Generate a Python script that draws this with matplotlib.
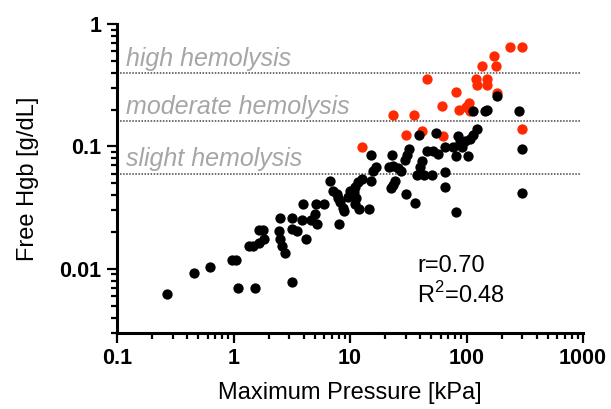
import numpy as np
import matplotlib.pyplot as plt
from matplotlib.ticker import FixedLocator, NullFormatter

plt.rcParams['font.family'] = ['Liberation Sans', 'DejaVu Sans']
plt.rcParams['mathtext.fontset'] = 'custom'
plt.rcParams['mathtext.rm'] = 'Liberation Sans'

# black points: pressure [kPa], free Hgb [g/dL]
black_x = [0.27, 0.46, 0.63, 0.97, 1.05, 1.09, 1.53, 1.36, 1.47, 1.66,
           1.79, 1.83, 1.66, 2.51, 3.18, 2.46, 2.51, 2.61, 2.77, 3.18,
           3.18, 3.51, 3.87, 3.95, 4.19, 4.63, 5.01, 5.21, 5.11, 5.98,
           6.73, 7.15, 7.73, 7.89, 8.2, 8.71, 8.88, 10.0, 9.62, 11.3,
           11.0, 11.9, 14.6, 8.05, 12.7, 11.7, 11.0, 10.8, 15.1, 15.1,
           16.7, 15.7, 21.6, 23.4, 25.8, 27.4, 23.0, 24.3, 23.4, 22.5,
           30.3, 36.1, 32.1, 30.8, 29.7, 39.1, 54.7, 39.9, 41.5, 37.6,
           43.2, 50.6, 45.8, 51.6, 56.9, 65.3, 76.6, 91.5, 81.3, 103,
           65.3, 65.3, 123, 114, 107, 84.5, 97.1, 88.0, 114, 144,
           150, 183, 282, 300, 300, 81.3]
black_y = [0.0062, 0.0093, 0.0104, 0.0118, 0.0118, 0.0070, 0.0070, 0.0154, 0.0154, 0.0207,
           0.0207, 0.0175, 0.0163, 0.026, 0.026, 0.0204, 0.0175, 0.0154, 0.0135, 0.0078,
           0.0211, 0.0204, 0.025, 0.0338, 0.0175, 0.025, 0.028, 0.0232, 0.0338, 0.0338,
           0.0519, 0.0431, 0.0407, 0.0378, 0.0351, 0.0313, 0.0296, 0.0431, 0.0385, 0.0378,
           0.0338, 0.0308, 0.0308, 0.0232, 0.0539, 0.051, 0.0464, 0.0423, 0.0519, 0.0845,
           0.0675, 0.0626, 0.0675, 0.0688, 0.0662, 0.0626, 0.0845, 0.0519, 0.0482, 0.0456,
           0.0407, 0.0344, 0.096, 0.0845, 0.077, 0.125, 0.128, 0.0675, 0.0755, 0.058,
           0.058, 0.058, 0.091, 0.091, 0.086, 0.098, 0.098, 0.098, 0.083, 0.083,
           0.0615, 0.0464, 0.140, 0.123, 0.116, 0.121, 0.110, 0.108, 0.193, 0.196,
           0.200, 0.26, 0.196, 0.0945, 0.042, 0.029]

# red points
red_x = [12.7, 23.4, 35.1, 30.3, 41.2, 45.4, 62.2, 63.2, 81.3, 86.3,
         99, 105, 107, 121, 123, 151, 151, 136, 179, 172,
         236, 300, 300, 183]
red_y = [0.099, 0.18, 0.18, 0.125, 0.133, 0.355, 0.215, 0.122, 0.28, 0.20,
         0.21, 0.226, 0.196, 0.355, 0.319, 0.355, 0.319, 0.451, 0.451, 0.552,
         0.654, 0.654, 0.140, 0.275]

levels = [0.4, 0.16, 0.06]
level_names = ['high hemolysis', 'moderate hemolysis', 'slight hemolysis']

fig = plt.figure(figsize=(6.11, 4.09), dpi=100)
ax = fig.add_axes([0.1915, 0.186, 0.7627, 0.7555])

ax.scatter(red_x, red_y, s=55, color='#ff2a00', linewidths=0, zorder=3)
ax.scatter(black_x, black_y, s=55, color='black', linewidths=0, zorder=4)

for lv, name in zip(levels, level_names):
    ax.axhline(lv, xmin=0, xmax=0.993, color='#444444', lw=1.1,
               linestyle=(0, (1, 1)), zorder=1)
    ax.annotate(name, xy=(0.019, lv), xycoords=('axes fraction', 'data'),
                xytext=(0, 1.5), textcoords='offset points',
                ha='left', va='bottom', fontsize=18, style='italic',
                color='#a6a6a6')

ax.set_xscale('log')
ax.set_yscale('log')
ax.set_xlim(0.1, 1000)
ax.set_ylim(0.003, 1)

ax.set_xticks([0.1, 1, 10, 100, 1000])
ax.set_xticklabels(['0.1', '1', '10', '100', '1000'])
ax.set_yticks([0.01, 0.1, 1])
ax.set_yticklabels(['0.01', '0.1', '1'])
xminor = [m * 10.0**e for e in range(-1, 3) for m in range(2, 10)]
yminor = [m * 10.0**e for e in range(-3, 0) for m in range(2, 10) if m * 10.0**e > 0.0029]
ax.xaxis.set_minor_locator(FixedLocator(xminor))
ax.yaxis.set_minor_locator(FixedLocator(yminor))
ax.xaxis.set_minor_formatter(NullFormatter())
ax.yaxis.set_minor_formatter(NullFormatter())

for s in ['top', 'right']:
    ax.spines[s].set_visible(False)
for s in ['left', 'bottom']:
    ax.spines[s].set_linewidth(2.2)
ax.tick_params(which='major', length=7, width=1.6, labelsize=15.5, pad=4)
ax.tick_params(which='minor', length=4.5, width=1.6)
for lab in ax.get_xticklabels() + ax.get_yticklabels():
    lab.set_fontweight('bold')

ax.set_xlabel('Maximum Pressure [kPa]', fontsize=17, labelpad=9)
ax.set_ylabel('Free Hgb [g/dL]', fontsize=17, labelpad=15)

ax.text(0.644, 0.197, 'r=0.70', transform=ax.transAxes, fontsize=17,
        va='baseline', ha='left')
ax.text(0.644, 0.097, r'R$^{2}$=0.48', transform=ax.transAxes, fontsize=17,
        va='baseline', ha='left')

fig.savefig('out.png', dpi=100)
